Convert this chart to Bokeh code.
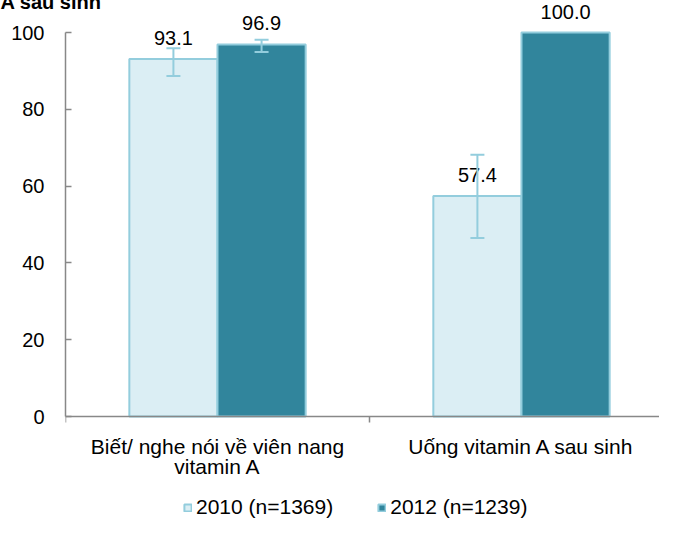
from bokeh.plotting import figure
from bokeh.models import (Range1d, FixedTicker, ColumnDataSource, Whisker, TeeHead,
                          Legend, LegendItem)
from bokeh.core.properties import value
from bokeh.embed import file_html
from bokeh.resources import INLINE

categories = ["Biết/ nghe nói về viên nang\nvitamin A", "Uống vitamin A sau sinh"]
series_names = ["2010 (n=1369)", "2012 (n=1239)"]
values_2010 = [93.1, 57.4]
values_2012 = [96.9, 100.0]
err_low_2010 = [88.7, 46.5]
err_high_2010 = [95.9, 68.2]
err_low_2012 = [94.9]
err_high_2012 = [98.1]
y_ticks = [0, 20, 40, 60, 80, 100]
title_text = "A sau sinh"

FONT = "Liberation Sans"
C_LIGHT = "#dbeef4"
C_DARK = "#31859c"
C_EDGE = "#93cddd"
C_AXIS = "#888888"

n = len(categories)
bw = 0.29
x2010 = [i + 0.5 - bw / 2 for i in range(n)]
x2012 = [i + 0.5 + bw / 2 for i in range(n)]

p = figure(width=659, height=522, output_backend="svg", toolbar_location=None,
           x_range=Range1d(0, 1.954), y_range=Range1d(-27.6, 107.3),
           min_border_left=65, min_border_right=0, min_border_top=0,
           min_border_bottom=0)
p.outline_line_color = None
p.xgrid.visible = False
p.ygrid.visible = False
p.background_fill_color = "white"

p.title.text = title_text
p.title.align = "left"
p.title.offset = -65
p.title.standoff = -20
p.title.vertical_align = "top"
p.title.text_font = FONT
p.title.text_font_size = "20px"
p.title.text_font_style = "bold"
p.title.text_color = "#000000"

s1 = ColumnDataSource(dict(x=x2010, top=values_2010,
                           lbl=["%.1f" % v for v in values_2010]))
s2 = ColumnDataSource(dict(x=x2012, top=values_2012,
                           lbl=["%.1f" % v for v in values_2012]))

r1 = p.vbar(x="x", top="top", bottom=0, width=bw, source=s1, fill_color=C_LIGHT,
            line_color=C_EDGE, line_width=2)
r2 = p.vbar(x="x", top="top", bottom=0, width=bw, source=s2, fill_color=C_DARK,
            line_color=C_EDGE, line_width=2)

e1 = ColumnDataSource(dict(x=x2010, lo=err_low_2010, hi=err_high_2010))
e2 = ColumnDataSource(dict(x=x2012[:len(err_low_2012)], lo=err_low_2012, hi=err_high_2012))
for src in (e1, e2):
    w = Whisker(base="x", lower="lo", upper="hi", source=src, level="overlay",
                line_color=C_EDGE, line_width=2,
                upper_head=TeeHead(size=14, line_color=C_EDGE, line_width=2),
                lower_head=TeeHead(size=14, line_color=C_EDGE, line_width=2))
    p.add_layout(w)

for src in (s1, s2):
    p.text(x="x", y="top", text="lbl", source=src, text_align="center",
           text_baseline="alphabetic", y_offset=-21,
           text_font_size="20px", text_color="#000000",
           text_font=value(FONT))

ya = p.yaxis[0]
ya.ticker = FixedTicker(ticks=y_ticks, minor_ticks=[])
ya.bounds = (0, 100)
ya.axis_line_color = C_AXIS
ya.axis_line_width = 1.5
ya.major_tick_line_color = C_AXIS
ya.major_tick_line_width = 1.5
ya.major_tick_in = 6
ya.major_tick_out = 0
ya.minor_tick_line_color = None
ya.major_label_standoff = 21
ya.major_label_text_font = FONT
ya.major_label_text_font_size = "20px"
ya.major_label_text_color = "#000000"

xa = p.xaxis[0]
centers = [i + 0.5 for i in range(n)]
xa.fixed_location = 0
xa.ticker = FixedTicker(ticks=centers, minor_ticks=list(range(n + 1)))
xa.major_label_overrides = {c: lab for c, lab in zip(centers, categories)}
xa.axis_line_color = C_AXIS
xa.axis_line_width = 1.5
xa.major_tick_line_color = None
xa.major_tick_in = 0
xa.major_tick_out = 0
xa.minor_tick_line_color = C_AXIS
xa.minor_tick_line_width = 1.5
xa.minor_tick_in = 0
xa.minor_tick_out = 6
xa.major_label_standoff = 12
xa.major_label_text_font = FONT
xa.major_label_text_font_size = "21px"
xa.major_label_text_color = "#000000"
xa.major_label_text_line_height = 0.9

legend = Legend(items=[LegendItem(label=series_names[0], renderers=[r1]),
                       LegendItem(label=series_names[1], renderers=[r2])],
                orientation="horizontal", location=(118, 3),
                glyph_width=9, glyph_height=9, label_standoff=4, spacing=44,
                padding=0, margin=0, border_line_color=None,
                background_fill_alpha=0,
                label_text_font=FONT, label_text_font_size="21px",
                label_text_color="#000000")
p.add_layout(legend, "center")

open("out.html", "w").write(file_html(p, INLINE))
